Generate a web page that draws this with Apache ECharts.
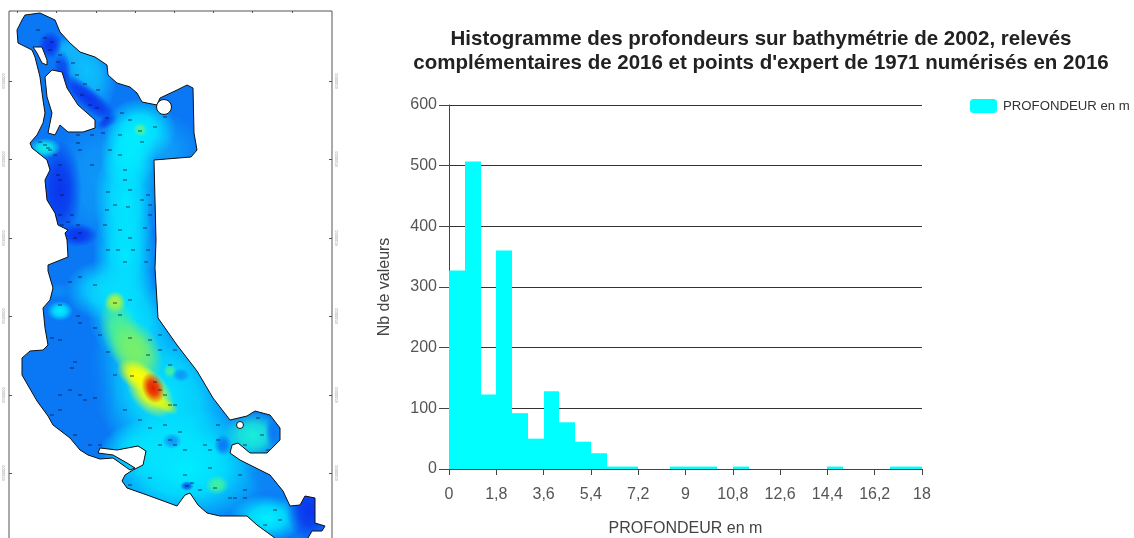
<!DOCTYPE html>
<html><head><meta charset="utf-8">
<style>html,body{margin:0;padding:0;background:#fff}#c{width:1134px;height:538px}</style>
<script src="https://cdn.jsdelivr.net/npm/echarts@6/dist/echarts.min.js"></script>
</head><body><div id="c"></div>
<script>
// ---------- histogram data ----------
const seriesName = 'PROFONDEUR en m';
const binWidth = 0.6;
const binCounts = [327,507,123,360,92,50,128,77,45,26,4,4,0,0,4,4,4,0,4,0,0,0,0,0,4,0,0,0,4,4];
const titleLines = ['Histogramme des profondeurs sur bathymétrie de 2002, relevés',
  "complémentaires de 2016 et points d'expert de 1971 numérisés en 2016"];

// ---------- map data (map coordinates) ----------
const coast = [[25,15],[40,13],[55,20],[60,32],[70,43],[80,52],[95,57],[107,65],[108,75],[117,83],[130,87],[137,93],[142,102],[147,103],[157,105],[160,98],[177,90],[187,85],[193,88],[194,133],[197,150],[191,157],[154,160],[155,200],[156,240],[155,268],
[157,301],[158,318],[177,345],[197,371],[213,398],[230,420],[247,416],[255,411],[270,415],[280,428],[280,440],[267,453],[250,453],[238,443],[232,445],[230,453],[240,460],[270,475],[283,491],[290,506],[300,505],[305,496],[315,498],[315,523],[325,526],[322,531],[312,531],[308,538],[305,545],[280,545],[275,538],[257,525],[247,516],[220,516],[207,513],[198,505],[190,493],[185,495],[177,506],[147,495],[127,488],[122,481],[125,475],[133,470],[143,465],[146,451],[138,446],[117,450],[100,448],[98,453],[113,455],[127,463],[135,468],[130,470],[113,458],[100,459],[88,455],[80,450],[70,438],[53,425],[48,416],[37,401],[22,375],[22,358],[30,351],[43,350],[48,345],[45,328],[43,308],[50,300],[53,288],[48,271],[48,265],
[68,257],[67,240],[65,233],[68,230],[58,225],[55,213],[47,200],[45,180],[50,170],[47,160],[32,148],[30,143],[37,135],[43,123],[45,113],[43,100],[40,77],[35,57],[32,50],[18,43],[17,30],[22,20]];
const islandA = [[45,77],[52,70],[62,72],[67,88],[78,105],[95,120],[95,128],[83,132],[68,132],[60,125],[55,135],[48,133],[52,113],[47,97]];
const islandB = [[33,47],[42,47],[47,60],[47,65],[42,63],[37,53]];
const ponds = [[164,107,7.5],[240,425,3.5]];
// depth field samples: x, y, radius x, radius y, angle, depth class
const depthField = [
[87,70,26,42,-25,2.2],[70,50,18,14,0,2],[148,150,55,40,0,1.7],
[50,45,12,14,0,0],[62,72,9,22,0,0.3],[88,98,40,11,40,0],[107,122,12,6,-30,0],
[95,180,38,65,0,1.5],[140,130,36,32,0,3],[140,130,7,7,0,4.5],[128,155,28,36,0,3],[126,200,32,60,0,2.9],[125,255,32,60,0,2.9],
[170,245,11,26,0,1.2],[155,215,8,16,0,1.2],[60,190,22,50,0,0],[78,235,20,12,0,0],[45,148,16,10,0,3.2],
[105,290,40,30,0,2.6],[130,315,42,55,-15,2.8],[165,395,68,95,-30,2.8],[75,390,42,58,0,1],
[185,468,90,60,0,3],[150,450,50,30,0,2.8],[253,435,30,24,0,3.4],[217,485,12,10,0,4],[267,518,38,24,0,3],
[172,441,10,8,0,1.5],[187,486,7,5,0,0.5],[223,445,9,11,0,1],[170,371,7,7,0,4],[181,375,9,7,0,1.5],
[60,311,13,10,0,3],[58,291,14,8,0,1.3],[115,303,11,12,0,5.4],[122,335,20,40,-20,4.2],[137,352,24,34,-25,4.6],
[165,405,15,7,30,5],[137,375,22,14,30,6],[150,392,30,19,50,6],[153,388,11,16,-20,8],
[310,511,24,30,0,0],[270,480,18,32,-50,1.2],[274,432,9,18,0,1]
];
const soundings = [[38,30],[45,38],[52,42],[60,55],[50,50],[58,62],[73,63],[77,75],[85,84],[98,90],[82,95],[90,105],[97,108],[107,118],[103,133],[122,113],[130,120],[140,131],[155,127],[165,117],[142,142],[120,135],
[45,145],[40,142],[50,150],[55,155],[48,148],[60,165],[78,143],[80,150],[78,135],[92,135],[60,180],[58,175],[62,195],[60,215],[72,215],[62,225],[68,222],[78,225],[80,233],[75,238],
[92,165],[110,150],[120,155],[125,170],[125,180],[130,190],[108,192],[115,205],[128,207],[148,195],[142,200],[150,205],[107,210],[105,225],[120,230],[130,238],[145,228],[150,215],[118,250],[125,262],[108,250],[133,250],[148,250],[146,262],
[80,277],[70,282],[95,285],[115,303],[130,300],[120,315],[60,305],[78,316],[80,323],[95,328],[100,335],[108,352],[130,338],[150,340],[160,335],[160,350],[170,365],[175,350],[148,355],
[60,340],[52,338],[72,368],[75,362],[60,395],[70,390],[80,395],[85,400],[60,410],[52,415],[95,398],[115,375],[132,376],[155,382],[160,390],[165,395],[170,405],[175,405],[125,410],[140,420],[150,428],[165,425],[170,440],[180,432],
[90,445],[75,435],[100,445],[175,445],[185,450],[205,445],[210,450],[218,425],[218,440],[258,418],[262,435],[245,445],[268,450],[210,468],[240,475],[245,490],[187,486],[192,483],[200,490],[215,488],[230,498],[235,498],[245,498],[275,510],[280,520],[265,525],[185,475],[160,445],[150,478],[130,485]];

const depthRamp = ['#0a35ee','#0a78f5','#12b4fb','#00eeff','#40f0a0','#a0f040','#ffff00','#ff8000','#e81a00'];
function hexA(h,a){const n=parseInt(h.slice(1),16);return `rgba(${n>>16},${(n>>8)&255},${n&255},${a})`;}
function depthColor(d){const t=Math.min(8,Math.floor(d)),f=d-t;
  if(!f) return depthRamp[t];
  const a=parseInt(depthRamp[t].slice(1),16),b=parseInt(depthRamp[t+1].slice(1),16);
  const m=s=>Math.round(((a>>s)&255)*(1-f)+((b>>s)&255)*f);
  return '#'+((1<<24)|(m(16)<<16)|(m(8)<<8)|m(0)).toString(16).slice(1);}

const FONT = '"Liberation Sans",Arial,sans-serif';
const mapXT = [17,56,96,135,174,213,252,292];
const mapYT = [81,159,238,316,395,473];

function polyStyle(api,pts){return pts.map(p=>api.coord(p));}

const chart = echarts.init(document.getElementById('c'),null,{renderer:'canvas'});
chart.setOption({
  animation:false, backgroundColor:'#fff',
  title:{ text:titleLines.join('\n'), left:756, top:22, textAlign:'center',
    textStyle:{fontFamily:FONT,fontWeight:'bold',fontSize:20.5,lineHeight:24,color:'#222'}},
  legend:{ left:965, top:94, itemWidth:27, itemHeight:14, itemGap:6, data:[{name:seriesName,icon:'roundRect'}],
    selectedMode:false, textStyle:{fontFamily:FONT,fontSize:13.2,color:'#333',padding:[0,0,0,1]}},
  grid:[
    {left:449,top:105,width:473,height:364,outerBoundsMode:'none'},
    {left:9,top:11,width:323,height:540,show:true,borderColor:'#555',borderWidth:1,backgroundColor:'#fff',outerBoundsMode:'none'}
  ],
  xAxis:[
    {gridIndex:0,type:'value',min:0,max:18,interval:1.8,name:seriesName,nameLocation:'middle',nameGap:52,
     nameTextStyle:{fontFamily:FONT,fontSize:16,color:'#444'},
     axisLine:{lineStyle:{color:'#444'}},axisTick:{length:6,lineStyle:{color:'#444'}},splitLine:{show:false},
     axisLabel:{fontFamily:FONT,fontSize:16,color:'#555',margin:18,showMaxLabel:true,showMinLabel:true,
       formatter:v=>String(+v.toFixed(1)).replace('.',',')}},
    {gridIndex:1,type:'value',min:9,max:332,position:'top',axisLine:{show:false},splitLine:{show:false},
     axisLabel:{show:false},axisTick:{inside:true,length:2,customValues:mapXT,lineStyle:{color:'#555'}}}
  ],
  yAxis:[
    {gridIndex:0,type:'value',min:0,max:600,interval:100,name:'Nb de valeurs',nameLocation:'middle',nameGap:56,
     nameTextStyle:{fontFamily:FONT,fontSize:16,color:'#444'},
     axisLine:{show:true,lineStyle:{color:'#444'}},axisTick:{show:true,length:10,lineStyle:{color:'#444'}},
     splitLine:{lineStyle:{color:'#333',width:1}},
     axisLabel:{fontFamily:FONT,fontSize:16,color:'#555',margin:12}},
    {gridIndex:1,type:'value',inverse:true,min:11,max:551,position:'left',axisLine:{show:false},splitLine:{show:false},
     axisTick:{inside:true,length:3,customValues:mapYT,lineStyle:{color:'#555'}},
     axisLabel:{customValues:mapYT,rotate:90,fontSize:4,color:'#999',margin:3,formatter:()=>'6500000'}},
    {gridIndex:1,type:'value',inverse:true,min:11,max:551,position:'right',axisLine:{show:false},splitLine:{show:false},
     axisTick:{inside:true,length:3,customValues:mapYT,lineStyle:{color:'#555'}},
     axisLabel:{customValues:mapYT,rotate:90,fontSize:4,color:'#999',margin:3,formatter:()=>'6500000'}}
  ],
  series:[
    {name:seriesName,type:'custom',xAxisIndex:0,yAxisIndex:0,z:3,silent:true,
     itemStyle:{color:'#00ffff'},encode:{x:0,y:1},
     data:binCounts.map((c,i)=>[i*binWidth,c]),
     renderItem:(p,api)=>{const a=api.coord([api.value(0),api.value(1)]),b=api.coord([api.value(0)+binWidth,0]);
       const x0=Math.round(a[0]),x1=Math.round(b[0]);
       return {type:'rect',shape:{x:x0,y:a[1],width:x1-x0,height:b[1]-a[1]},style:{fill:'#00ffff'}};}},
    {type:'custom',xAxisIndex:1,yAxisIndex:1,z:2,silent:true,data:[0],clip:true,
     renderItem:(p,api)=>({type:'polygon',shape:{points:polyStyle(api,coast)},style:{fill:'#0a78f5'}})},
    {type:'custom',xAxisIndex:1,yAxisIndex:1,z:3,silent:true,clip:true,data:depthField,
     renderItem:(p,api)=>{
       const c=api.coord([api.value(0),api.value(1)]);
       const e=api.coord([api.value(0)+api.value(2),api.value(1)+api.value(3)]);
       const col=depthColor(api.value(5));
       return {type:'group',clipPath:{type:'polygon',shape:{points:polyStyle(api,coast)}},
         children:[{type:'circle',x:c[0],y:c[1],rotation:-api.value(4)*Math.PI/180,
           scaleX:(e[0]-c[0])/50,scaleY:(e[1]-c[1])/50,
           shape:{cx:0,cy:0,r:50},
           style:{fill:{type:'radial',x:.5,y:.5,r:.5,colorStops:[
             {offset:0,color:hexA(col,1)},{offset:.45,color:hexA(col,.8)},{offset:1,color:hexA(col,0)}]}}}]};
     }},
    {type:'scatter',xAxisIndex:1,yAxisIndex:1,z:4,silent:true,symbol:'rect',symbolSize:[4,1.2],
     itemStyle:{color:'#0a1440',opacity:.65},data:soundings},
    {type:'custom',xAxisIndex:1,yAxisIndex:1,z:5,silent:true,data:[0],clip:true,
     renderItem:(p,api)=>({type:'group',children:[
       {type:'polygon',shape:{points:polyStyle(api,coast)},style:{fill:'none',stroke:'#111',lineWidth:1}},
       {type:'polygon',shape:{points:polyStyle(api,islandA)},style:{fill:'#fff',stroke:'#111',lineWidth:1}},
       {type:'polygon',shape:{points:polyStyle(api,islandB)},style:{fill:'#fff',stroke:'#111',lineWidth:1}},
       ...ponds.map(o=>{const c=api.coord([o[0],o[1]]);return {type:'circle',shape:{cx:c[0],cy:c[1],r:o[2]},style:{fill:'#fff',stroke:'#111',lineWidth:1}};})
     ]})}
  ]
});
</script></body></html>
